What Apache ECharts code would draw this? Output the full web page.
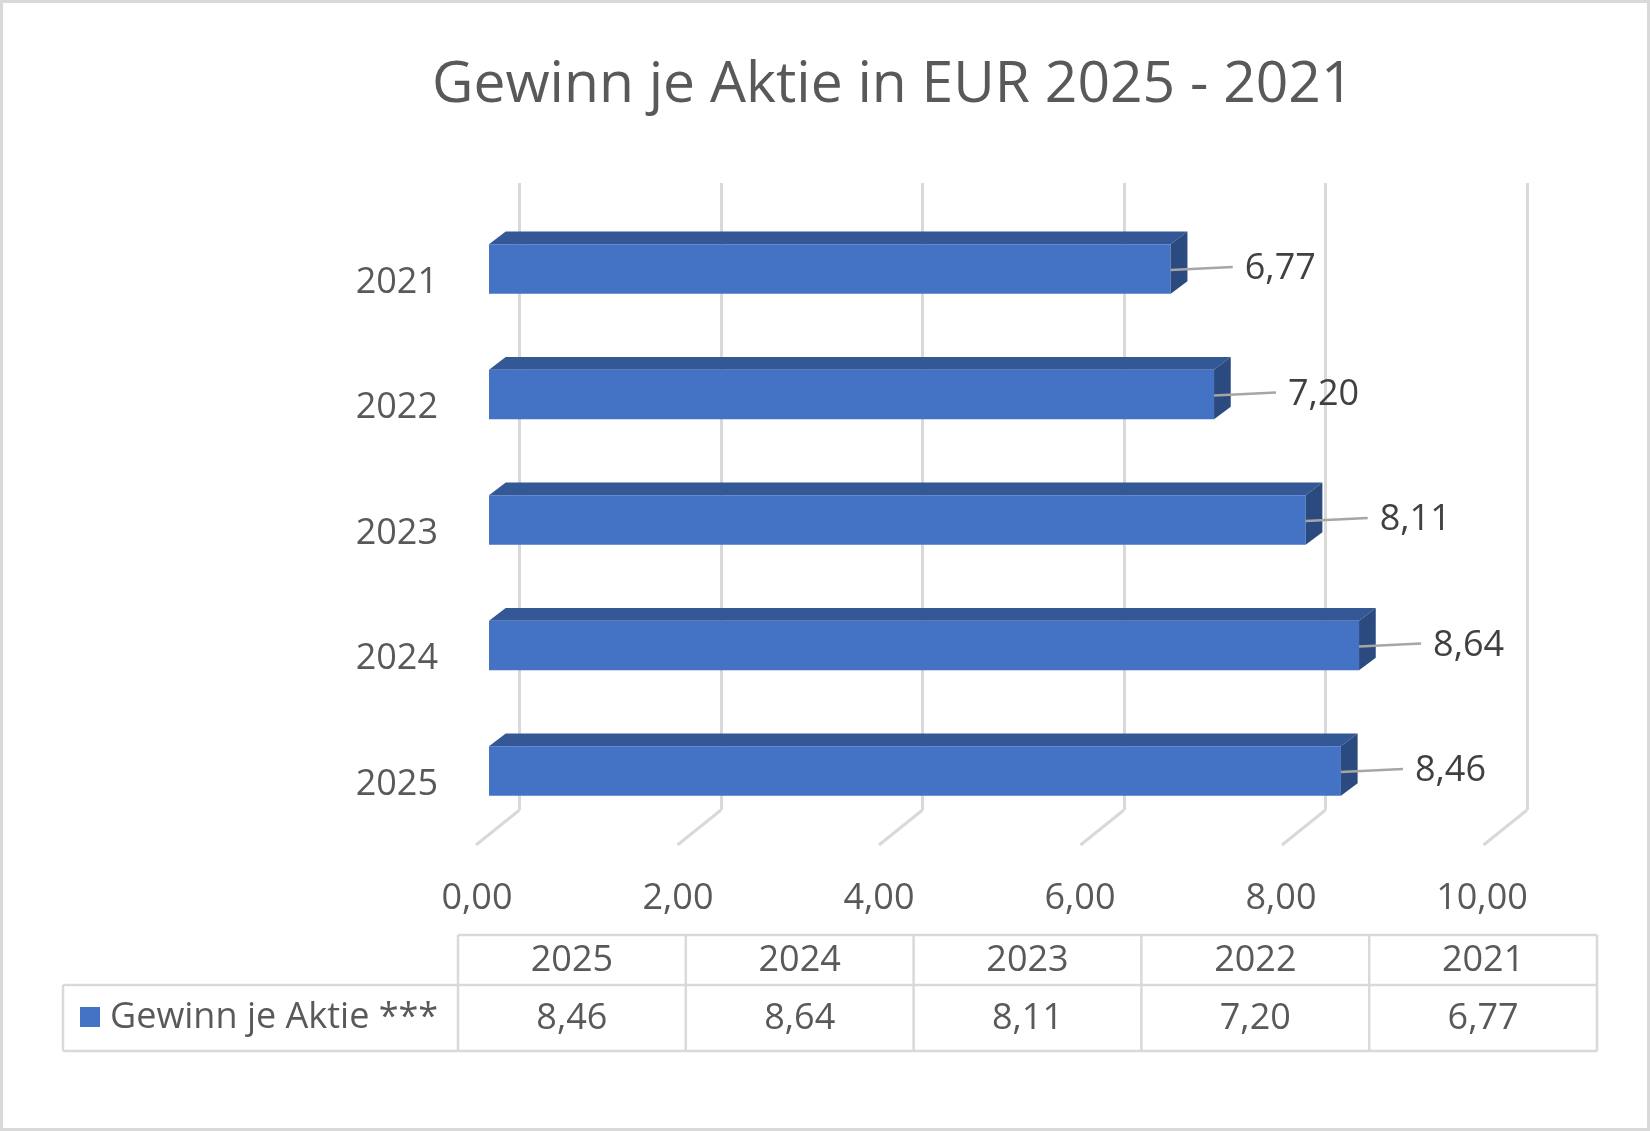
<!DOCTYPE html>
<html>
<head>
<meta charset="utf-8">
<script src="https://cdn.jsdelivr.net/npm/echarts@6/dist/echarts.min.js"></script>
<style>
html,body{margin:0;padding:0;background:#fff;}
#chart{width:1650px;height:1131px;}
</style>
</head>
<body>
<div id="chart"></div>
<script>
// ---- data ----
const titleText = 'Gewinn je Aktie in EUR 2025 - 2021';
const seriesName = 'Gewinn je Aktie ***';
const categories = ['2025', '2024', '2023', '2022', '2021'];
const values = [8.46, 8.64, 8.11, 7.20, 6.77];
const xTicks = [0, 2, 4, 6, 8, 10];

// ---- helpers ----
const FONT = 'Open Sans';
const fmt = v => Number(v).toFixed(2).replace('.', ',');
const GRID_COLOR = '#d9d9d9';
const TEXT_COLOR = '#595959';
const DX = 16.7, DY = 12.6;

const chart = echarts.init(document.getElementById('chart'), null, {renderer: 'canvas'});

// table graphic built from arrays
function buildTable() {
  const els = [];
  const colLeft = 458, colW = 227.8, top = 935, mid = 985, bottom = 1051, legendLeft = 63;
  const right = colLeft + colW * categories.length;
  const line = (x1, y1, x2, y2) => ({
    type: 'line', shape: {x1, y1, x2, y2}, style: {stroke: GRID_COLOR, lineWidth: 2.5}, silent: true
  });
  els.push(line(colLeft, top, right, top));
  els.push(line(legendLeft, mid, right, mid));
  els.push(line(legendLeft, bottom, right, bottom));
  els.push(line(legendLeft, mid, legendLeft, bottom));
  for (let i = 0; i <= categories.length; i++) {
    const x = colLeft + colW * i;
    els.push(line(x, top, x, bottom));
  }
  categories.forEach((c, i) => {
    const cx = colLeft + colW * (i + 0.5);
    els.push({type: 'text', x: cx, y: (top + mid) / 2 + 1,
      style: {text: c, font: '36px "' + FONT + '"', fill: TEXT_COLOR, align: 'center', verticalAlign: 'middle'}});
    els.push({type: 'text', x: cx, y: (mid + bottom) / 2 + 1,
      style: {text: fmt(values[i]), font: '36px "' + FONT + '"', fill: TEXT_COLOR, align: 'center', verticalAlign: 'middle'}});
  });
  els.push({type: 'rect', shape: {x: 80, y: 1007, width: 20, height: 20}, style: {fill: '#4472C4'}});
  els.push({type: 'text', x: 110, y: (mid + bottom) / 2,
    style: {text: seriesName, font: '36px "' + FONT + '"', fill: TEXT_COLOR, align: 'left', verticalAlign: 'middle'}});
  // outer border
  els.push({type: 'rect', shape: {x: 1.5, y: 1.5, width: 1647, height: 1128},
    style: {fill: null, stroke: GRID_COLOR, lineWidth: 3}, silent: true});
  return els;
}

const option = {
  backgroundColor: '#ffffff',
  animation: false,
  title: {
    text: titleText,
    left: 432,
    top: 57,
    padding: 0,
    textStyle: {fontFamily: FONT, fontSize: 57, fontWeight: 'normal', color: TEXT_COLOR}
  },
  grid: [
    // back wall (gridlines)
    {left: 519.5, top: 183, width: 1007.5, height: 627, outerBoundsMode: 'none'},
    // front plane (bars)
    {left: 489, top: 206.25, width: 1007, height: 627.5, outerBoundsMode: 'none'},
    // axis labels plane
    {left: 477, top: 219.5, width: 1005, height: 627.5, outerBoundsMode: 'none'}
  ],
  xAxis: [
    {gridIndex: 0, type: 'value', min: 0, max: 10, interval: 2,
      axisLine: {show: false}, axisTick: {show: false}, axisLabel: {show: false},
      splitLine: {show: true, lineStyle: {color: GRID_COLOR, width: 3}}},
    {gridIndex: 1, type: 'value', min: 0, max: 10, interval: 2, show: false,
      splitLine: {show: false}},
    {gridIndex: 2, type: 'value', min: 0, max: 10, interval: 2,
      axisLine: {show: false}, axisTick: {show: false}, splitLine: {show: false},
      axisLabel: {show: true, margin: 34, formatter: v => fmt(v),
        fontFamily: FONT, fontSize: 36, color: TEXT_COLOR}}
  ],
  yAxis: [
    {gridIndex: 0, type: 'category', data: categories, show: false},
    {gridIndex: 1, type: 'category', data: categories, show: false},
    {gridIndex: 2, type: 'category', data: categories,
      axisLine: {show: false}, axisTick: {show: false}, splitLine: {show: false},
      axisLabel: {show: true, margin: 39, fontFamily: FONT, fontSize: 36, color: TEXT_COLOR}}
  ],
  series: [
    {
      // floor lines of the 3D gridlines
      type: 'custom',
      xAxisIndex: 0, yAxisIndex: 0,
      silent: true,
      data: xTicks.map(t => [t, 0]),
      encode: {x: 0, y: 1},
      renderItem: function (params, api) {
        const x = api.coord([api.value(0), 0])[0];
        const yb = params.coordSys.y + params.coordSys.height;
        return {type: 'line', shape: {x1: x, y1: yb, x2: x - 43.5, y2: yb + 35},
          style: {stroke: GRID_COLOR, lineWidth: 3}};
      },
      z: 1
    },
    {
      name: seriesName,
      type: 'custom',
      xAxisIndex: 1, yAxisIndex: 1,
      data: values.map((v, i) => [v, i]),
      encode: {x: 0, y: 1},
      renderItem: function (params, api) {
        const ci = api.value(1);
        const c0 = api.coord([0, ci]);
        const c1 = api.coord([api.value(0), ci]);
        const bh = api.size([0, 1])[1] * 0.396;
        const x0 = c0[0], x1 = c1[0];
        const yTop = c1[1] - bh / 2, yBot = yTop + bh;
        const yc = c1[1];
        return {
          type: 'group',
          children: [
            {type: 'polygon', shape: {points: [[x0, yTop], [x1, yTop], [x1 + DX, yTop - DY], [x0 + DX, yTop - DY]]},
              style: {fill: '#335895'}},
            {type: 'rect', shape: {x: x0, y: yTop, width: x1 - x0, height: bh},
              style: {fill: '#4472C4'}},
            {type: 'polygon', shape: {points: [[x1, yTop], [x1 + DX, yTop - DY], [x1 + DX, yBot - DY], [x1, yBot]]},
              style: {fill: '#2B4A80'}},
            {type: 'line', shape: {x1: x1, y1: yc + 1, x2: x1 + 62, y2: yc - 2},
              style: {stroke: '#a6a6a6', lineWidth: 2.5}},
            {type: 'text', x: x1 + 74, y: yc,
              style: {text: fmt(api.value(0)), font: '36px "' + FONT + '"', fill: '#404040',
                align: 'left', verticalAlign: 'middle'}}
          ]
        };
      },
      z: 3
    }
  ],
  graphic: buildTable()
};
chart.setOption(option);
</script>
</body>
</html>
